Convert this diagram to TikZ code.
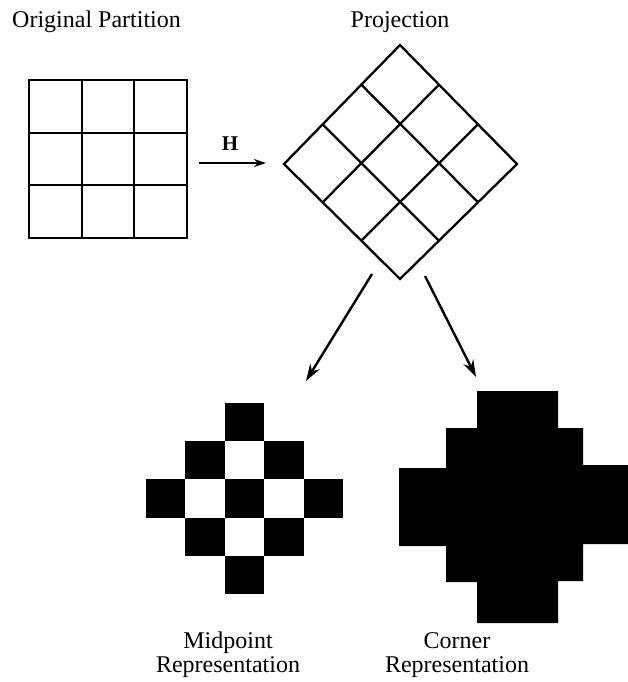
\documentclass[tikz,border=0pt]{standalone}
\usepackage{fontspec}
\setmainfont{Liberation Serif}
\usetikzlibrary{arrows.meta,calc}
\begin{document}
\begin{tikzpicture}[x=1pt,y=-1pt,
  gridline/.style={line width=2.1pt},
  diamline/.style={line width=2.3pt,line cap=round,line join=miter},
  conn/.style={line width=2.4pt,-{Stealth[length=17pt,width=11pt]}},
  hconn/.style={line width=1.7pt,-{Stealth[length=12pt,width=8pt]}},
  lbl/.style={font=\fontsize{24}{25}\selectfont, inner sep=0pt},
  pix/.style={fill=black}]
\useasboundingbox[fill=white] (0,0) rectangle (628,682);

% titles
\node[lbl,anchor=base west] (t1) at (12,28) {Original Partition};
\node[lbl,anchor=base] (t2) at (400,28) {Projection};

% original partition grid
\draw[gridline] (29,80) rectangle (187,238);
\foreach \v in {81.7,134.3} \draw[gridline] (\v,80) -- (\v,238);
\foreach \v in {132.7,185.3} \draw[gridline] (29,\v) -- (187,\v);

% H arrow
\coordinate (h1) at (199,163);
\coordinate (h2) at (266,163);
\draw[hconn] (h1) -- (h2);
\node[font=\fontsize{21}{22}\selectfont\bfseries, inner sep=0pt, anchor=base] (hl) at (230,150) {H};

% projection diamond
\coordinate (T) at (400,45);
\coordinate (R) at (517,164);
\coordinate (B) at (400,279);
\coordinate (L) at (284,164);
\draw[diamline] (T) -- (R) -- (B) -- (L) -- cycle;
\foreach \f in {1/3,2/3} {
  \draw[diamline] ($(T)!\f!(R)$) -- ($(L)!\f!(B)$);
  \draw[diamline] ($(T)!\f!(L)$) -- ($(R)!\f!(B)$);
}

% arrows downward
\coordinate (a1) at (372,274);
\coordinate (a2) at (306,381);
\coordinate (b1) at (425,276);
\coordinate (b2) at (476,377);
\draw[conn] (a1) -- (a2);
\draw[conn] (b1) -- (b2);

% midpoint representation
\begin{scope}[shift={(146,403)},x=39.4pt,y=-38.2pt]
  \foreach \c/\r in {2/0,1/1,3/1,0/2,2/2,4/2,1/3,3/3,2/4}
    \fill[pix] (\c,\r) rectangle (\c+1,\r+1);
\end{scope}

% corner representation
\fill[pix] (477,391) -- (558,391) -- (558,428) -- (583,428) -- (583,465) -- (628,465)
  -- (628,544) -- (583,544) -- (583,581) -- (558,581) -- (558,623) -- (477,623)
  -- (477,582) -- (446,582) -- (446,546) -- (399,546) -- (399,468) -- (446,468)
  -- (446,428) -- (477,428) -- cycle;

% labels
\node[lbl,anchor=base] (m1) at (228,648) {Midpoint};
\node[lbl,anchor=base] (m2) at (228,672) {Representation};
\node[lbl,anchor=base] (c1) at (457,648) {Corner};
\node[lbl,anchor=base] (c2) at (457,672) {Representation};
\end{tikzpicture}
\end{document}
